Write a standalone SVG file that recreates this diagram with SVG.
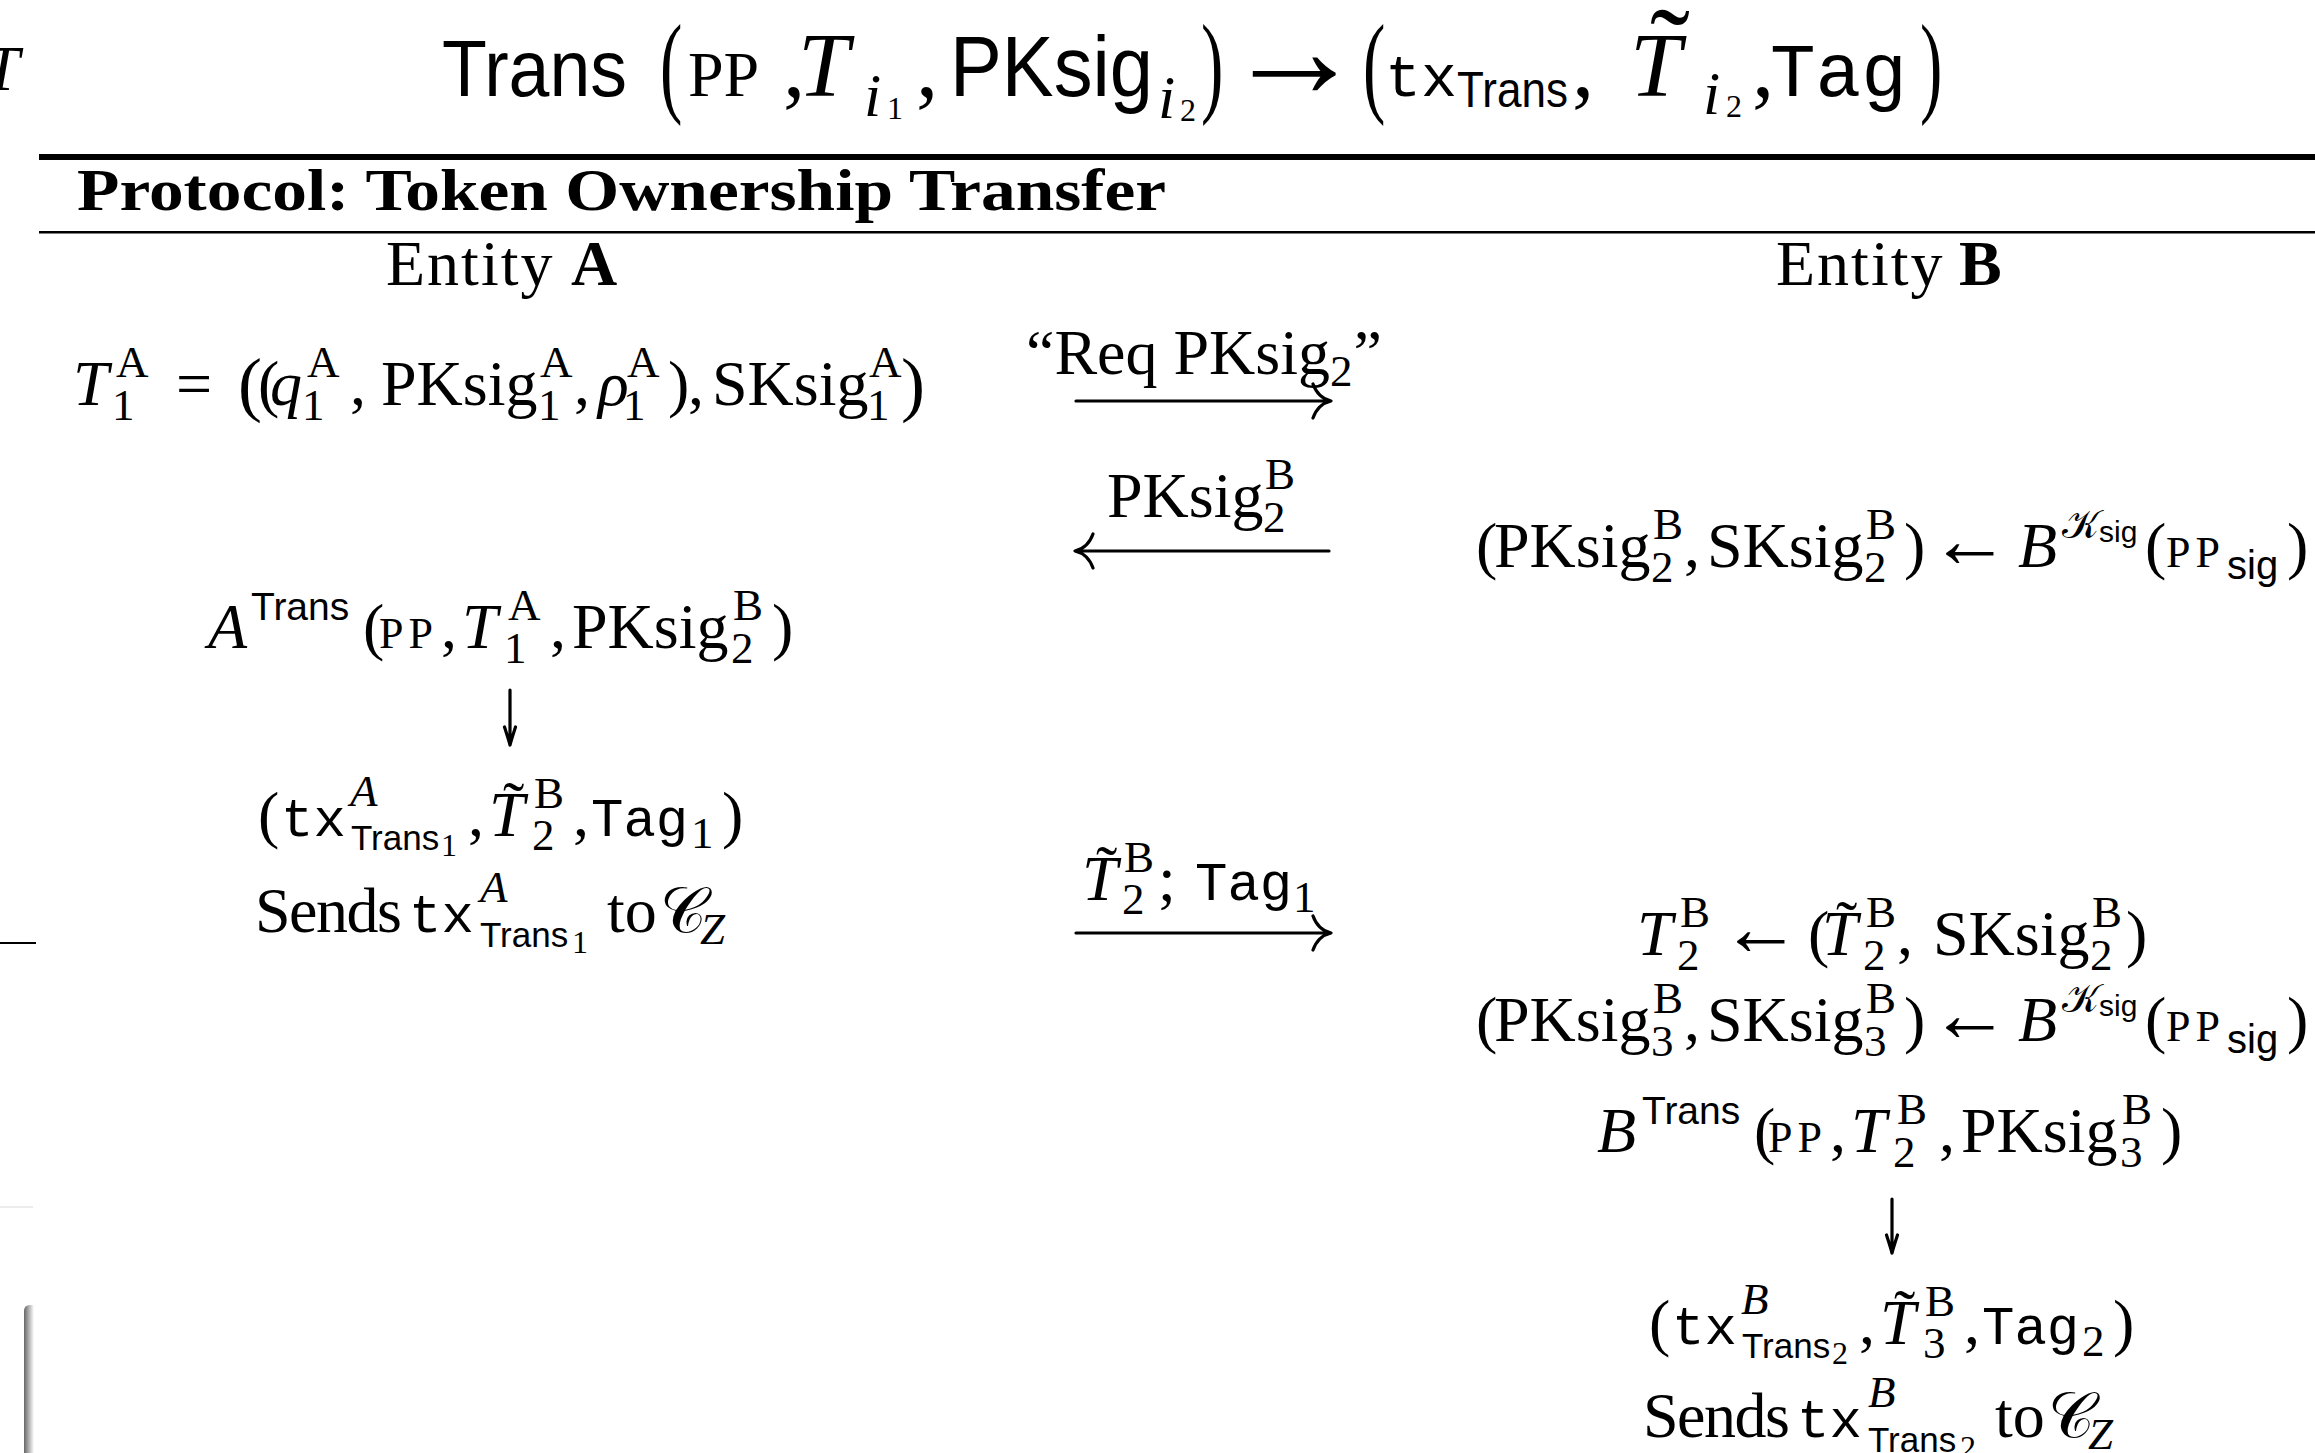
<svg xmlns="http://www.w3.org/2000/svg" width="2315" height="1453" viewBox="0 0 2315 1453">
<style>
.m{font-family:"Liberation Serif","DejaVu Serif",serif;fill:#000}
.it{font-style:italic}
.bf{font-weight:bold}
.sf{font-family:"Liberation Sans","DejaVu Sans",sans-serif}
.tt{font-family:"Liberation Mono","DejaVu Sans Mono",monospace}
.arw{font-size:80px}
.sup{font-size:45px}
.sc{font-size:44px;letter-spacing:5px}
.ar{fill:none;stroke:#000;stroke-width:3.2;stroke-linecap:round;stroke-linejoin:round}
.rule{fill:#000}
</style>
<defs>
<linearGradient id="bar" x1="0" x2="1" y1="0" y2="0"><stop offset="0" stop-color="#666"/><stop offset="0.45" stop-color="#aaa"/><stop offset="1" stop-color="#fff"/></linearGradient>
</defs>
<rect width="2315" height="1453" fill="#fff"/>
<g id="edge-fragments">
<text class="m it" x="-16" y="90" font-size="64">T</text>
<line x1="0" y1="943" x2="36" y2="943" stroke="#000" stroke-width="2"/>
<line x1="0" y1="1207" x2="33" y2="1207" stroke="#ececec" stroke-width="2"/>
<path d="M24 1453 V1311 Q24 1305 30 1305 H34 V1453 Z" fill="url(#bar)"/>
</g>
<g id="title">
<text class="sf" x="442" y="96" font-size="80" textLength="185" lengthAdjust="spacingAndGlyphs">Trans</text>
<text class="m" font-size="112" transform="translate(660,102) scale(0.6,1)">(</text>
<text class="m" x="688" y="96" font-size="64">PP</text>
<text class="m" x="783" y="96" font-size="89">,</text>
<text class="m it" x="798" y="96" font-size="92">T</text>
<text class="m it" x="864" y="116" font-size="62">i</text>
<text class="m" x="887" y="119" font-size="32">1</text>
<text class="m" x="916" y="96" font-size="89">,</text>
<text class="sf" x="950" y="96" font-size="85" textLength="203" lengthAdjust="spacingAndGlyphs">PKsig</text>
<text class="m it" x="1158" y="118" font-size="62">i</text>
<text class="m" x="1180" y="121" font-size="32">2</text>
<text class="m" font-size="112" transform="translate(1201,102) scale(0.6,1)">)</text>
<text class="m" x="1224" y="97" font-size="140">→</text>
<text class="m" font-size="112" transform="translate(1363,102) scale(0.6,1)">(</text>
<text class="tt" x="1385" y="96" font-size="60">tx</text>
<text class="sf" x="1457" y="107" font-size="50" textLength="111" lengthAdjust="spacingAndGlyphs">Trans</text>
<text class="m" x="1572" y="96" font-size="89">,</text>
<text class="m it" x="1630" y="96" font-size="92">T</text>
<text class="m" x="1650" y="91" font-size="120">˜</text>
<text class="m it" x="1703" y="114" font-size="62">i</text>
<text class="m" x="1726" y="117" font-size="32">2</text>
<text class="m" x="1752" y="96" font-size="89">,</text>
<text class="tt" x="1770" y="96" font-size="76">Tag</text>
<text class="m" font-size="112" transform="translate(1920,102) scale(0.6,1)">)</text>
</g>
<g id="header">
<rect class="rule" x="39" y="154" width="2276" height="6"/>
<text class="m bf" x="77" y="210" font-size="60" textLength="1089" lengthAdjust="spacingAndGlyphs">Protocol: Token Ownership Transfer</text>
<rect class="rule" x="39" y="231" width="2276" height="2.5"/>
</g>
<g id="entity-a"><text class="m" font-size="64" x="386" y="285"><tspan style="letter-spacing:2px">Entity</tspan><tspan class="bf" x="571">A</tspan></text></g>
<g id="entity-b"><text class="m" font-size="64" x="1776" y="285"><tspan style="letter-spacing:2px">Entity</tspan><tspan class="bf" x="1959">B</tspan></text></g>
<g id="a-token"><text class="m" font-size="64"><tspan class="it" x="73" y="405">T</tspan><tspan class="sup" x="116" y="377">A</tspan><tspan class="sup" x="112" y="420">1</tspan><tspan x="176" y="405">=</tspan><tspan x="238" y="408" font-size="72">(</tspan><tspan x="258" y="405">(</tspan><tspan class="it" x="270" y="405">q</tspan><tspan class="sup" x="307" y="377">A</tspan><tspan class="sup" x="302" y="420">1</tspan><tspan x="350" y="405">,</tspan><tspan x="381" y="405">PKsig</tspan><tspan class="sup" x="540" y="377">A</tspan><tspan class="sup" x="538" y="420">1</tspan><tspan x="574" y="405">,</tspan><tspan class="it" x="598" y="405">ρ</tspan><tspan class="sup" x="627" y="377">A</tspan><tspan class="sup" x="623" y="420">1</tspan><tspan x="668" y="405">)</tspan><tspan x="688" y="405">,</tspan><tspan x="712" y="405">SKsig</tspan><tspan class="sup" x="869" y="377">A</tspan><tspan class="sup" x="867" y="420">1</tspan><tspan x="901" y="408" font-size="72">)</tspan></text></g>
<g id="msg-req"><text class="m" font-size="64" x="1026" y="374">“Req PKsig<tspan class="sup" dy="12">2</tspan><tspan dx="1" dy="-12">”</tspan></text></g>
<g id="msg-pk"><text class="m" font-size="64"><tspan x="1107" y="517">PKsig</tspan><tspan class="sup" x="1265" y="489">B</tspan><tspan class="sup" x="1263" y="532">2</tspan></text></g>
<g id="b-keygen-1"><text class="m" font-size="64"><tspan x="1476" y="567">(</tspan><tspan x="1494" y="567">PKsig</tspan><tspan class="sup" x="1653" y="539">B</tspan><tspan class="sup" x="1651" y="582">2</tspan><tspan x="1684" y="567">,</tspan><tspan x="1707" y="567">SKsig</tspan><tspan class="sup" x="1866" y="539">B</tspan><tspan class="sup" x="1864" y="582">2</tspan><tspan x="1904" y="567">)</tspan><tspan class="arw" x="1930" y="567">←</tspan><tspan class="it" x="2018" y="567">B</tspan><tspan font-size="40" x="2062" y="538">𝒦</tspan><tspan class="sf" font-size="30" x="2099" y="542">sig</tspan><tspan x="2145" y="567">(</tspan><tspan class="sc" x="2166" y="567">PP</tspan><tspan class="sf" font-size="40" x="2227" y="579">sig</tspan><tspan x="2287" y="567">)</tspan></text></g>
<g id="a-trans"><text class="m" font-size="64"><tspan class="it" x="208" y="648">A</tspan><tspan class="sf" font-size="39" x="251" y="620">Trans</tspan><tspan x="363" y="648">(</tspan><tspan class="sc" x="379" y="648">PP</tspan><tspan x="441" y="648">,</tspan><tspan class="it" x="462" y="648">T</tspan><tspan class="sup" x="508" y="620">A</tspan><tspan class="sup" x="504" y="663">1</tspan><tspan x="550" y="648">,</tspan><tspan x="572" y="648">PKsig</tspan><tspan class="sup" x="733" y="620">B</tspan><tspan class="sup" x="731" y="663">2</tspan><tspan x="772" y="648">)</tspan></text></g>
<g id="a-out"><text class="m" font-size="64"><tspan x="258" y="836">(</tspan><tspan class="tt" font-size="54" x="281" y="836">tx</tspan><tspan class="it sup" x="350" y="806">A</tspan><tspan class="sf" font-size="35" x="351" y="850">Trans</tspan><tspan font-size="32" x="441" y="856">1</tspan><tspan x="468" y="836">,</tspan><tspan class="it" x="489" y="836">T</tspan><tspan x="503" y="826">˜</tspan><tspan class="sup" x="534" y="808">B</tspan><tspan class="sup" x="532" y="850">2</tspan><tspan x="573" y="836">,</tspan><tspan class="tt" font-size="54" x="591" y="836">Tag</tspan><tspan class="sup" x="691" y="848">1</tspan><tspan x="722" y="836">)</tspan></text></g>
<g id="a-send"><text class="m" font-size="64"><tspan x="255" y="932" style="letter-spacing:-1.5px">Sends</tspan><tspan class="tt" font-size="54" x="409" y="932">tx</tspan><tspan class="it sup" x="480" y="902">A</tspan><tspan class="sf" font-size="35" x="480" y="947">Trans</tspan><tspan font-size="32" x="572" y="953">1</tspan><tspan x="607" y="932">to</tspan><tspan x="660" y="932">𝒞</tspan><tspan class="it sup" x="700" y="944">Z</tspan></text></g>
<g id="msg-token"><text class="m" font-size="64"><tspan class="it" x="1082" y="900">T</tspan><tspan x="1096" y="890">˜</tspan><tspan class="sup" x="1124" y="872">B</tspan><tspan class="sup" x="1122" y="914">2</tspan><tspan x="1158" y="900">;</tspan><tspan class="tt" font-size="54" x="1195" y="900">Tag</tspan><tspan class="sup" x="1293" y="912">1</tspan></text></g>
<g id="b-token"><text class="m" font-size="64"><tspan class="it" x="1637" y="955">T</tspan><tspan class="sup" x="1680" y="927">B</tspan><tspan class="sup" x="1677" y="970">2</tspan><tspan class="arw" x="1721" y="955">←</tspan><tspan x="1808" y="955">(</tspan><tspan class="it" x="1822" y="955">T</tspan><tspan x="1836" y="945">˜</tspan><tspan class="sup" x="1866" y="927">B</tspan><tspan class="sup" x="1863" y="970">2</tspan><tspan x="1897" y="955">,</tspan><tspan x="1933" y="955">SKsig</tspan><tspan class="sup" x="2092" y="927">B</tspan><tspan class="sup" x="2090" y="970">2</tspan><tspan x="2126" y="955">)</tspan></text></g>
<g id="b-keygen-2"><text class="m" font-size="64"><tspan x="1476" y="1041">(</tspan><tspan x="1494" y="1041">PKsig</tspan><tspan class="sup" x="1653" y="1013">B</tspan><tspan class="sup" x="1651" y="1056">3</tspan><tspan x="1684" y="1041">,</tspan><tspan x="1707" y="1041">SKsig</tspan><tspan class="sup" x="1866" y="1013">B</tspan><tspan class="sup" x="1864" y="1056">3</tspan><tspan x="1904" y="1041">)</tspan><tspan class="arw" x="1930" y="1041">←</tspan><tspan class="it" x="2018" y="1041">B</tspan><tspan font-size="40" x="2062" y="1012">𝒦</tspan><tspan class="sf" font-size="30" x="2099" y="1016">sig</tspan><tspan x="2145" y="1041">(</tspan><tspan class="sc" x="2166" y="1041">PP</tspan><tspan class="sf" font-size="40" x="2227" y="1053">sig</tspan><tspan x="2287" y="1041">)</tspan></text></g>
<g id="b-trans"><text class="m" font-size="64"><tspan class="it" x="1597" y="1152">B</tspan><tspan class="sf" font-size="39" x="1642" y="1124">Trans</tspan><tspan x="1754" y="1152">(</tspan><tspan class="sc" x="1768" y="1152">PP</tspan><tspan x="1830" y="1152">,</tspan><tspan class="it" x="1851" y="1152">T</tspan><tspan class="sup" x="1897" y="1124">B</tspan><tspan class="sup" x="1893" y="1167">2</tspan><tspan x="1939" y="1152">,</tspan><tspan x="1961" y="1152">PKsig</tspan><tspan class="sup" x="2122" y="1124">B</tspan><tspan class="sup" x="2120" y="1167">3</tspan><tspan x="2161" y="1152">)</tspan></text></g>
<g id="b-out"><text class="m" font-size="64"><tspan x="1649" y="1344">(</tspan><tspan class="tt" font-size="54" x="1672" y="1344">tx</tspan><tspan class="it sup" x="1741" y="1314">B</tspan><tspan class="sf" font-size="35" x="1742" y="1358">Trans</tspan><tspan font-size="32" x="1832" y="1364">2</tspan><tspan x="1859" y="1344">,</tspan><tspan class="it" x="1880" y="1344">T</tspan><tspan x="1894" y="1334">˜</tspan><tspan class="sup" x="1925" y="1316">B</tspan><tspan class="sup" x="1923" y="1358">3</tspan><tspan x="1964" y="1344">,</tspan><tspan class="tt" font-size="54" x="1982" y="1344">Tag</tspan><tspan class="sup" x="2082" y="1356">2</tspan><tspan x="2113" y="1344">)</tspan></text></g>
<g id="b-send"><text class="m" font-size="64"><tspan x="1643" y="1437" style="letter-spacing:-1.5px">Sends</tspan><tspan class="tt" font-size="54" x="1797" y="1437">tx</tspan><tspan class="it sup" x="1868" y="1407">B</tspan><tspan class="sf" font-size="35" x="1868" y="1452">Trans</tspan><tspan font-size="32" x="1960" y="1458">2</tspan><tspan x="1995" y="1437">to</tspan><tspan x="2048" y="1437">𝒞</tspan><tspan class="it sup" x="2088" y="1449">Z</tspan></text></g>
<g id="connectors">
<path class="ar" d="M1076 401 H1328 M1313 384 Q1318 398 1331 401 Q1318 404 1313 418"/>
<path class="ar" d="M1078 551 H1329 M1093 534 Q1088 548 1075 551 Q1088 554 1093 568"/>
<path class="ar" d="M1076 933 H1328 M1313 916 Q1318 930 1331 933 Q1318 936 1313 950"/>
<path class="ar" stroke-width="2.4" d="M510 690 V744 M504.5 727 Q509 741 510 745 Q511 741 515.5 727"/>
<path class="ar" stroke-width="2.4" d="M1892 1199 V1252 M1886.5 1235 Q1891 1249 1892 1253 Q1893 1249 1897.5 1235"/>
</g>
</svg>
